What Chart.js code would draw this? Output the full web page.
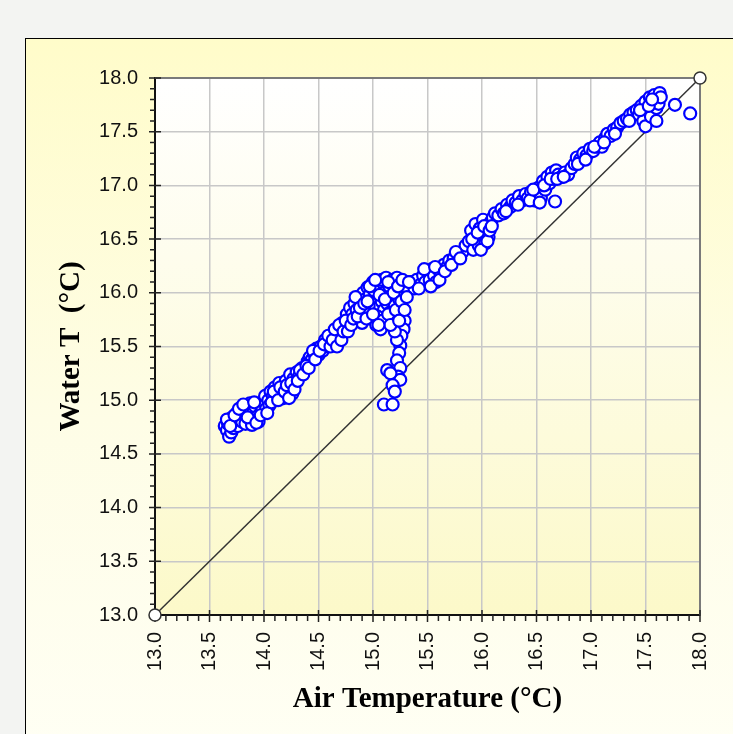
<!DOCTYPE html>
<html>
<head>
<meta charset="utf-8">
<script src="https://cdn.jsdelivr.net/npm/chart.js@4.4.1/dist/chart.umd.min.js"></script>
<style>
  html, body { margin: 0; padding: 0; background: #f3f4f2; overflow: hidden; }
  #panel {
    position: absolute; left: 25px; top: 38px; width: 760px; height: 760px;
    border-top: 1.5px solid #000; border-left: 1.5px solid #000;
    background: linear-gradient(to bottom, #fffcca 0%, #fefde6 50%, #fffff6 100%);
  }
  #chart { position: absolute; left: 0; top: 0; }
</style>
</head>
<body>
<div id="panel"></div>
<canvas id="chart" width="733" height="734"></canvas>
<script>
// ── Water vs air temperature scatter ──

const airTemp = [
  13.64, 13.66, 13.68, 13.70, 13.67, 13.72, 13.74, 13.71, 13.76, 13.78, 13.75, 13.80,
  13.79, 13.82, 13.84, 13.83, 13.86, 13.88, 13.87, 13.90, 13.92, 13.89, 13.94, 13.96,
  13.95, 13.98, 14.00, 14.02, 14.01, 14.04, 14.06, 14.05, 14.08, 14.10,
  14.12, 14.14, 14.16, 14.18, 14.20, 14.22, 14.24, 14.26, 14.27, 14.30, 14.32, 14.35,
  14.37, 14.40, 14.42, 14.44, 14.46, 14.48, 14.50, 14.52, 14.54, 14.56, 14.58, 14.60,
  14.62, 14.64, 14.66, 14.68, 14.70, 14.72, 14.74, 14.76, 14.78, 14.79, 14.81, 14.83,
  14.85, 14.87, 14.89, 14.91, 14.93, 14.95, 14.97, 14.99,
  15.00, 15.02, 15.04, 15.05, 15.06, 15.08, 15.08, 15.10, 15.10, 15.12, 15.12, 15.13,
  15.15, 15.16, 15.17, 15.18, 15.19, 15.20, 15.21, 15.22, 15.23, 15.24, 15.25, 15.26,
  15.27, 15.28, 15.30, 14.96, 14.98, 14.93, 14.90, 15.03, 15.01, 14.97, 15.07,
  15.29, 15.28, 15.26, 15.25, 15.24, 15.22, 15.25, 15.23, 15.25, 15.13, 15.16, 15.18,
  15.20, 15.10, 15.18, 15.22, 15.20,
  15.32, 15.35, 15.38, 15.40, 15.44, 15.46, 15.48, 15.50, 15.52, 15.54, 15.56, 15.58,
  15.60, 15.62, 15.65, 15.68, 15.70, 15.74, 15.78, 15.82, 15.85,
  15.88, 15.90, 15.92, 15.94, 15.95, 15.97, 15.98, 16.00, 16.01, 16.03, 16.04, 16.06,
  16.08, 16.10, 16.12,
  16.15, 16.18, 16.20, 16.23, 16.26, 16.28, 16.31, 16.34, 16.37, 16.40, 16.42, 16.45,
  16.48, 16.50, 16.52, 16.54, 16.56, 16.58, 16.60, 16.62, 16.64, 16.66, 16.68, 16.67,
  16.70, 16.73, 16.76, 16.79, 16.82, 16.85, 16.87, 16.90, 16.93, 16.96, 16.99, 17.02,
  17.05, 17.08, 17.10, 17.13, 17.15, 17.18, 17.21, 17.24, 17.27, 17.30, 17.33, 17.36,
  17.39, 17.42, 17.44, 17.46, 17.48, 17.50, 17.50, 17.52, 17.54, 17.55, 17.57, 17.58,
  17.60, 17.61, 17.63, 17.62, 17.64, 17.60, 17.77, 17.91,
  // second pass through the band
  13.66, 13.69, 13.73, 13.77, 13.81, 13.85, 13.91, 13.93, 13.97, 14.03, 14.07, 14.09,
  14.13, 14.15, 14.19, 14.21, 14.23, 14.25, 14.28, 14.31, 14.33, 14.36, 14.39, 14.41,
  14.45, 14.47, 14.51, 14.55, 14.59, 14.61, 14.63, 14.65, 14.67, 14.69, 14.71, 14.73,
  14.75, 14.77, 14.80, 14.82, 14.84, 14.86, 14.88, 14.92, 14.94,
  15.02, 15.04, 15.06, 15.09, 15.11, 15.14, 15.14, 15.16, 15.19, 15.21, 15.23, 15.24,
  15.26, 15.27, 15.29, 15.31, 15.33, 15.00, 14.95, 15.05,
  15.42, 15.47, 15.53, 15.57, 15.61, 15.66, 15.72, 15.76, 15.80,
  15.91, 15.96, 15.99, 16.02, 16.05, 16.07, 16.09,
  16.22, 16.33, 16.44, 16.47, 16.53, 16.57, 16.63, 16.69, 16.75, 16.88, 16.95, 17.03,
  17.12, 17.22, 17.35, 17.45, 17.53, 17.56
];

const waterTemp = [
  14.76, 14.72, 14.66, 14.70, 14.78, 14.74, 14.80, 14.84, 14.76, 14.84, 14.88, 14.80,
  14.93, 14.87, 14.95, 14.78, 14.90, 14.82, 14.97, 14.88, 14.94, 14.77, 14.85, 14.96,
  14.80, 14.90, 14.98, 14.92, 15.04, 15.00, 15.08, 14.95, 15.04, 15.12,
  15.06, 15.16, 15.10, 15.02, 15.18, 15.12, 15.24, 15.06, 15.20, 15.26, 15.22, 15.30,
  15.28, 15.36, 15.40, 15.38, 15.44, 15.48, 15.42, 15.50, 15.46, 15.56, 15.50, 15.58,
  15.54, 15.62, 15.56, 15.66, 15.60, 15.72, 15.68, 15.80, 15.74, 15.86, 15.80, 15.90,
  15.84, 15.96, 15.90, 16.00, 15.94, 16.05, 15.98, 16.08,
  16.10, 15.96, 15.86, 16.04, 15.78, 15.92, 16.12, 15.84, 16.00, 16.14, 15.74, 15.90,
  16.06, 15.82, 15.96, 16.12, 15.72, 15.88, 16.02, 16.14, 15.80, 15.94, 16.08, 15.76,
  15.86, 16.00, 16.10, 15.88, 15.76, 15.82, 15.72, 15.70, 16.02, 16.06, 15.66,
  15.74, 15.66, 15.60, 15.51, 15.44, 15.37, 15.30, 15.22, 15.19, 15.28, 15.25, 15.14,
  15.08, 14.96, 14.96, 15.56, 15.64,
  16.02, 16.10, 16.04, 16.12, 16.08, 16.16, 16.10, 16.20, 16.12, 16.22, 16.16, 16.10,
  16.22, 16.18, 16.26, 16.24, 16.30, 16.32, 16.36, 16.38, 16.44,
  16.48, 16.58, 16.40, 16.64, 16.50, 16.44, 16.60, 16.54, 16.68, 16.46, 16.60, 16.52,
  16.66, 16.70, 16.74,
  16.72, 16.78, 16.74, 16.82, 16.80, 16.86, 16.84, 16.90, 16.86, 16.92, 16.88, 16.94,
  16.86, 16.92, 16.98, 16.88, 17.04, 16.96, 17.08, 17.02, 17.12, 17.06, 17.14, 16.85,
  17.10, 17.08, 17.12, 17.10, 17.16, 17.20, 17.26, 17.24, 17.30, 17.28, 17.34, 17.32,
  17.36, 17.40, 17.36, 17.44, 17.48, 17.46, 17.52, 17.54, 17.58, 17.60, 17.62, 17.66,
  17.68, 17.70, 17.66, 17.74, 17.60, 17.78, 17.55, 17.70, 17.82, 17.64, 17.76, 17.84,
  17.72, 17.80, 17.86, 17.76, 17.82, 17.60, 17.75, 17.67,
  // second pass through the band
  14.82, 14.76, 14.86, 14.92, 14.96, 14.84, 14.98, 14.79, 14.86, 14.88, 14.98, 15.08,
  15.00, 15.12, 15.08, 15.14, 15.02, 15.16, 15.10, 15.18, 15.28, 15.24, 15.32, 15.30,
  15.46, 15.38, 15.46, 15.52, 15.60, 15.50, 15.56, 15.66, 15.50, 15.70, 15.56, 15.64,
  15.74, 15.64, 15.70, 15.76, 15.96, 15.78, 15.86, 15.90, 15.76,
  16.12, 15.78, 15.98, 15.74, 15.94, 15.80, 16.10, 15.70, 16.00, 15.84, 16.06, 15.74,
  15.92, 16.12, 15.84, 15.96, 16.10, 15.80, 15.92, 15.70,
  16.04, 16.22, 16.06, 16.24, 16.12, 16.20, 16.26, 16.38, 16.32,
  16.50, 16.56, 16.40, 16.62, 16.48, 16.58, 16.62,
  16.76, 16.82, 16.86, 16.96, 16.84, 17.00, 17.06, 17.06, 17.08, 17.20, 17.24, 17.36,
  17.40, 17.48, 17.60, 17.70, 17.74, 17.80
];

// 1:1 reference line
const lineX = [13.0, 18.0];
const lineY = [13.0, 18.0];

const axisMin = 13.0;
const axisMax = 18.0;
const majorStep = 0.5;
const minorStep = 0.1;

const tickFont = { family: "'Liberation Sans', Arial, sans-serif", size: 20 };
const titleFont = { family: "'Liberation Serif', 'Times New Roman', serif", size: 29, weight: 'bold' };

// Plot area gradient + top/right frame + tick marks
const plotDecor = {
  id: 'plotDecor',
  beforeDraw(chart) {
    const { ctx, chartArea: a } = chart;
    const grad = ctx.createLinearGradient(0, a.top, 0, a.bottom);
    grad.addColorStop(0, '#ffffff');
    grad.addColorStop(1, '#fcf9c9');
    ctx.save();
    ctx.fillStyle = grad;
    ctx.fillRect(a.left, a.top, a.right - a.left, a.bottom - a.top);
    ctx.restore();
  },
  beforeDatasetsDraw(chart) {
    const { ctx, chartArea: a, scales } = chart;
    ctx.save();
    // gray frame on top and right
    ctx.strokeStyle = '#7a7a7a';
    ctx.lineWidth = 2;
    ctx.beginPath();
    ctx.moveTo(a.left, a.top);
    ctx.lineTo(a.right, a.top);
    ctx.lineTo(a.right, a.bottom);
    ctx.stroke();

    ctx.strokeStyle = '#222';
    ctx.lineWidth = 1.5;
    ctx.beginPath();
    const n = Math.round((axisMax - axisMin) / minorStep);
    for (let i = 0; i <= n; i++) {
      const v = axisMin + i * minorStep;
      const major = i % Math.round(majorStep / minorStep) === 0;
      const px = scales.x.getPixelForValue(v);
      const py = scales.y.getPixelForValue(v);
      if (major) {
        ctx.moveTo(px, a.bottom - 5); ctx.lineTo(px, a.bottom + 7);
        ctx.moveTo(a.left - 6, py); ctx.lineTo(a.left + 6, py);
      } else {
        ctx.moveTo(px, a.bottom); ctx.lineTo(px, a.bottom + 6);
        ctx.moveTo(a.left - 5, py); ctx.lineTo(a.left, py);
      }
    }
    ctx.stroke();
    ctx.restore();
  }
};

const ctx = document.getElementById('chart').getContext('2d');

new Chart(ctx, {
  type: 'scatter',
  data: {
    datasets: [
      {
        label: 'Water T',
        data: airTemp.map((x, i) => ({ x, y: waterTemp[i] })),
        pointRadius: 6,
        pointBorderWidth: 2.2,
        pointBorderColor: '#0000ff',
        pointBackgroundColor: '#ffffff',
        order: 0
      },
      {
        label: '1:1',
        type: 'line',
        data: lineX.map((x, i) => ({ x, y: lineY[i] })),
        borderColor: '#333333',
        borderWidth: 1.5,
        pointRadius: 6,
        pointBorderWidth: 1.5,
        pointBorderColor: '#333333',
        pointBackgroundColor: '#ffffff',
        clip: false,
        order: 1
      }
    ]
  },
  options: {
    responsive: false,
    animation: false,
    layout: { padding: { left: 0, right: 33, top: 78, bottom: 0 } },
    plugins: {
      legend: { display: false },
      tooltip: { enabled: false }
    },
    scales: {
      x: {
        type: 'linear',
        min: axisMin,
        max: axisMax,
        afterFit(scale) {
          scale.height = 119;
          scale.paddingLeft = 0;
          scale.paddingRight = 0;
        },
        ticks: {
          stepSize: majorStep,
          color: '#111',
          font: tickFont,
          padding: 17,
          minRotation: 90,
          maxRotation: 90,
          autoSkip: false,
          callback: v => v.toFixed(1)
        },
        grid: { color: '#c8c8c8', lineWidth: 1.5, drawTicks: false },
        border: { display: true, color: '#111', width: 2 },
        title: {
          display: true,
          text: 'Air Temperature (°C)',
          color: '#000',
          font: titleFont,
          padding: { top: 0, bottom: 17 }
        }
      },
      y: {
        type: 'linear',
        min: axisMin,
        max: axisMax,
        afterFit(scale) {
          scale.width = 155;
          scale.paddingTop = 0;
          scale.paddingBottom = 0;
        },
        ticks: {
          stepSize: majorStep,
          color: '#111',
          font: tickFont,
          padding: 17,
          autoSkip: false,
          callback: v => v.toFixed(1)
        },
        grid: { color: '#c8c8c8', lineWidth: 1.5, drawTicks: false },
        border: { display: true, color: '#111', width: 2 },
        title: {
          display: true,
          text: 'Water T  (°C)',
          color: '#000',
          font: titleFont,
          padding: { top: 54, bottom: 0 }
        }
      }
    }
  },
  plugins: [plotDecor]
});
</script>
</body>
</html>
